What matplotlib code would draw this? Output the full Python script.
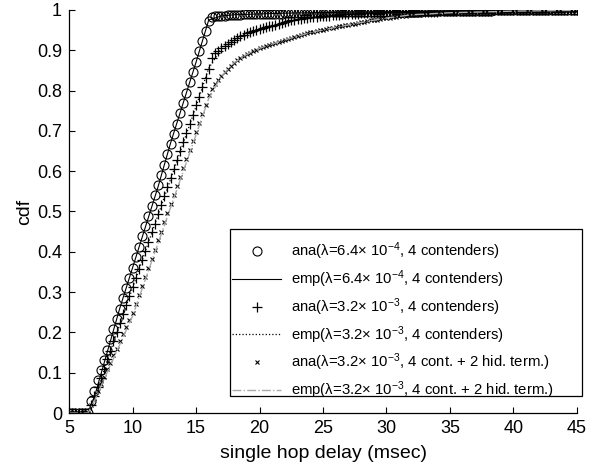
import numpy as np
import matplotlib
matplotlib.use('Agg')
import matplotlib.pyplot as plt
from matplotlib.patches import Rectangle

plt.rcParams['font.family'] = ['Liberation Sans', 'DejaVu Sans']
plt.rcParams['mathtext.fontset'] = 'custom'
plt.rcParams['mathtext.rm'] = 'Liberation Sans'
plt.rcParams['mathtext.it'] = 'Liberation Sans'

# delay grid of the analytical curves (msec)
delay = np.arange(5, 45.01, 0.25)

ana_64e4 = [0, 0, 0, 0,  0, 0, 0, .030,
            .055, .081, .106, .132,  .157, .183, .208, .234,
            .259, .285, .310, .336,  .361, .387, .412, .438,
            .463, .489, .514, .540,  .565, .591, .616, .642,
            .667, .693, .718, .744,  .769, .795, .820, .846,
            .871, .897, .922, .948,  .973, .982, .984, .985,
            .986, .986, .987, .987,  .988, .988, .988, .989,
            .989, .989, .989, .990,  .990, .990, .990, .991,
            .991, .991, .991, .991,  .992, .992, .992, .992,
            .992, .992, .993, .993,  .993, .993, .993, .993,
            .993, .994, .994, .994,  .994, .994, .994, .994,
            .994, .995, .995, .995,  .995, .995, .995, .995,
            .995, .995, .995, .995,  .995, .996, .996, .996,
            .996, .996, .996, .996,  .996, .996, .996, .996,
            .997, .997, .997, .997,  .997, .997, .997, .997,
            .997, .997, .998, .998,  .998, .998, .998, .998,
            .998, .998, .998, .998,  .998, .998, .999, .999,
            .999, .999, .999, .999,  .999, .999, .999, .999,
            .999, .999, .999, .999,  .999, .999, 1.0, 1.0,
            1.0, 1.0, 1.0, 1.0,  1.0, 1.0, 1.0, 1.0,
            1.0]

ana_32e3 = [0, 0, 0, 0,  0, 0, 0, .020,
            .043, .065, .088, .110,  .133, .155, .178, .200,
            .223, .245, .268, .290,  .313, .335, .358, .380,
            .403, .425, .448, .470,  .493, .515, .538, .560,
            .583, .605, .628, .650,  .673, .695, .718, .740,
            .763, .785, .808, .830,  .853, .880, .893, .899,
            .905, .911, .916, .921,  .926, .930, .935, .939,
            .943, .946, .948, .951,  .953, .955, .957, .959,
            .961, .963, .966, .968,  .970, .972, .974, .975,
            .977, .978, .979, .981,  .982, .983, .983, .984,
            .985, .986, .986, .987,  .988, .988, .989, .989,
            .990, .990, .991, .991,  .992, .992, .992, .993,
            .993, .993, .993, .994,  .994, .994, .994, .994,
            .995, .995, .995, .995,  .995, .995, .996, .996,
            .996, .996, .996, .996,  .996, .997, .997, .997,
            .997, .997, .997, .997,  .998, .998, .998, .998,
            .998, .998, .998, .998,  .998, .998, .999, .999,
            .999, .999, .999, .999,  .999, .999, .999, .999,
            .999, .999, .999, .999,  .999, .999, .999, 1.0,
            1.0, 1.0, 1.0, 1.0,  1.0, 1.0, 1.0, 1.0,
            1.0]

ana_32e3_hid = [0, 0, 0, 0,  0, 0, 0, .020,
                .038, .055, .073, .090,  .108, .125, .143, .160,
                .178, .195, .213, .230,  .248, .270, .293, .315,
                .338, .360, .383, .405,  .428, .450, .473, .495,
                .518, .540, .563, .585,  .608, .630, .653, .675,
                .698, .720, .743, .765,  .788, .803, .815, .826,
                .836, .845, .854, .862,  .869, .875, .881, .886,
                .890, .894, .898, .901,  .905, .908, .911, .913,
                .916, .919, .921, .924,  .926, .928, .931, .933,
                .935, .937, .940, .942,  .944, .946, .948, .949,
                .951, .953, .954, .956,  .957, .959, .960, .962,
                .963, .965, .966, .968,  .969, .971, .972, .974,
                .975, .976, .977, .979,  .980, .981, .982, .983,
                .984, .985, .986, .987,  .988, .988, .989, .989,
                .990, .990, .991, .991,  .992, .992, .992, .993,
                .993, .993, .993, .994,  .994, .994, .995, .995,
                .995, .995, .995, .996,  .996, .996, .996, .996,
                .996, .997, .997, .997,  .997, .997, .997, .997,
                .998, .998, .998, .998,  .998, .998, .998, .998,
                .998, .999, .999, .999,  .999, .999, .999, .999,
                .999]

# empirical curves
emp_delay = [5, 6, 6.5, 7, 8, 9, 10, 11, 12, 13, 14, 15, 16, 17, 18, 19, 20,
             22, 24, 26, 28, 30, 32, 35, 40, 45]
emp_64e4 = [0, 0, 0, .04, .15, .26, .36, .46, .56, .67, .77, .87, .975, .985,
            .988, .989, .990, .992, .993, .994, .995, .995, .996, .997, .999, 1.0]
emp_32e3 = [0, 0, 0, .03, .13, .22, .31, .40, .49, .58, .67, .76, .855, .905,
            .926, .943, .953, .970, .982, .988, .992, .994, .995, .997, .999, 1.0]
emp_32e3_hid = [0, 0, 0, .03, .10, .17, .24, .33, .42, .51, .60, .69, .78, .836,
                .869, .890, .905, .926, .944, .957, .969, .980, .988, .993, .997, .999]

labels = ['ana(λ=6.4× 10$^{-4}$, 4 contenders)',
          'emp(λ=6.4× 10$^{-4}$, 4 contenders)',
          'ana(λ=3.2× 10$^{-3}$, 4 contenders)',
          'emp(λ=3.2× 10$^{-3}$, 4 contenders)',
          'ana(λ=3.2× 10$^{-3}$, 4 cont. + 2 hid. term.)',
          'emp(λ=3.2× 10$^{-3}$, 4 cont. + 2 hid. term.)']

fig = plt.figure(figsize=(6.08, 4.66), dpi=100)
ax = fig.add_axes([0.1135, 0.1137, 0.8355, 0.865])

ax.plot(delay, ana_64e4, 'o', color='black', mfc='none', ms=6.5, mew=0.8, label=labels[0])
ax.plot(emp_delay, emp_64e4, '-', color='black', lw=0.8, label=labels[1])
ax.plot(delay, ana_32e3, '+', color='black', ms=7, mew=0.9, label=labels[2])
ax.plot(emp_delay, emp_32e3, ':', color='black', lw=0.9, label=labels[3])
ax.plot(delay, ana_32e3_hid, 'x', color='black', ms=3.5, mew=0.8, label=labels[4])
ax.plot(emp_delay, emp_32e3_hid, '-.', color='#aaaaaa', lw=1.0, label=labels[5])

ax.set_xlim(5, 45)
ax.set_ylim(0, 1)
ax.set_xticks(np.arange(5, 46, 5))
ax.set_yticks(np.arange(0, 1.01, 0.1))
ax.set_yticklabels(['0', '0.1', '0.2', '0.3', '0.4', '0.5', '0.6', '0.7', '0.8', '0.9', '1'])
ax.spines['top'].set_visible(False)
ax.spines['right'].set_visible(False)
for s in ['left', 'bottom']:
    ax.spines[s].set_linewidth(0.9)
ax.tick_params(direction='in', length=4, width=0.8, labelsize=13, pad=5)

ax.set_xlabel('single hop delay (msec)', fontsize=14, labelpad=6)
ax.set_ylabel('cdf', fontsize=14, labelpad=3)

# legend box drawn separately (MATLAB style padding)
box = Rectangle((0.317, 0.042), 0.693, 0.415, transform=ax.transAxes,
                facecolor='white', edgecolor='black', linewidth=0.9,
                clip_on=False, zorder=4)
ax.add_patch(box)
leg = ax.legend(loc='upper left', bbox_to_anchor=(0.321, 0.428), fontsize=10.7,
                frameon=False, handlelength=3.3, labelspacing=0.42, borderpad=0,
                handletextpad=0.67, borderaxespad=0)
leg.set_zorder(5)

fig.savefig('out.png', dpi=100)
